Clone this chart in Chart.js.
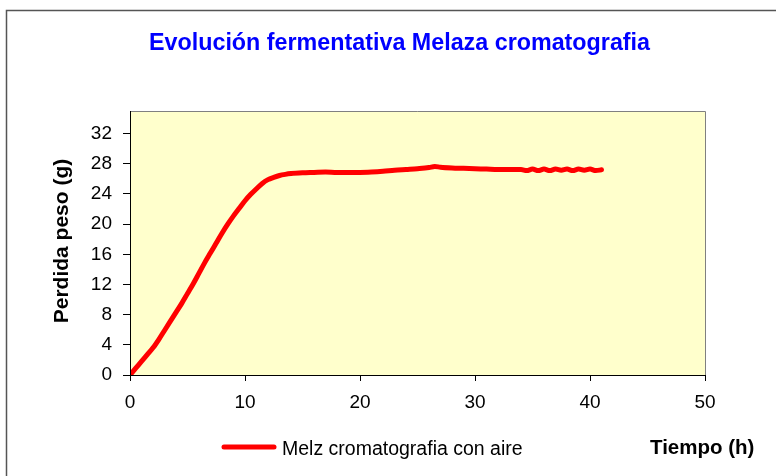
<!DOCTYPE html>
<html>
<head>
<meta charset="utf-8">
<script src="https://cdn.jsdelivr.net/npm/chart.js@4.4.1/dist/chart.umd.min.js"></script>
<style>
html,body{margin:0;padding:0;background:#fff;}
#wrap{width:776px;height:476px;position:relative;}
</style>
</head>
<body>
<div id="wrap"><canvas id="c" width="776" height="476"></canvas></div>
<script>
// Data
const chartTitle = "Evolución fermentativa Melaza cromatografia";
const seriesName = "Melz cromatografia con aire";
const xTitle = "Tiempo (h)";
const yTitle = "Perdida peso (g)";
const timeHours = [0,0.5,1,1.5,2,2.5,3,3.5,4,4.5,5,5.5,6,6.5,7,7.5,8,8.5,9,9.5,10,10.5,11,11.5,12,12.5,13,13.5,14,15,16,17,18,19,20,21,22,23,24,25,26,26.5,27,28,29,30,31,32,33,34,34.5,35,35.5,36,36.5,37,37.5,38,38.5,39,39.5,40,40.5,41];
const weightLoss = [0,0.9,1.8,2.7,3.6,4.7,5.9,7.1,8.3,9.5,10.8,12.1,13.5,14.9,16.2,17.5,18.8,20.0,21.1,22.1,23.1,23.95,24.7,25.4,25.9,26.2,26.45,26.6,26.7,26.8,26.85,26.9,26.85,26.85,26.85,26.9,27.0,27.15,27.25,27.35,27.5,27.65,27.55,27.45,27.4,27.35,27.3,27.25,27.25,27.25,27.1,27.3,27.1,27.3,27.1,27.3,27.15,27.3,27.1,27.3,27.15,27.3,27.1,27.2];
const xTicks = [0,10,20,30,40,50];
const yTicks = [0,4,8,12,16,20,24,28,32];

const points = timeHours.map((t,i)=>({x:t,y:weightLoss[i]}));
const FONT = "'Liberation Sans', Arial, sans-serif";

const decor = {
  id:'decor',
  beforeDraw(chart){
    const ctx = chart.ctx, a = chart.chartArea;
    ctx.save();
    ctx.fillStyle = '#fff';
    ctx.fillRect(0,0,chart.width,chart.height);
    ctx.fillStyle = '#FFFFCC';
    ctx.fillRect(a.left,a.top,a.right-a.left,a.bottom-a.top);
    ctx.restore();
  },
  afterDraw(chart){
    const ctx = chart.ctx, a = chart.chartArea;
    ctx.save();
    // plot border
    ctx.strokeStyle = '#808080';
    ctx.lineWidth = 1;
    ctx.beginPath();
    ctx.moveTo(a.left, a.top+0.5); ctx.lineTo(a.right+0.5, a.top+0.5); ctx.lineTo(a.right+0.5, a.bottom);
    ctx.stroke();
    ctx.strokeStyle = '#000';
    ctx.beginPath();
    ctx.moveTo(a.left+0.5, a.top); ctx.lineTo(a.left+0.5, a.bottom+0.5); ctx.lineTo(a.right, a.bottom+0.5);
    ctx.stroke();
    // outer frame
    ctx.strokeStyle = '#555';
    ctx.lineWidth = 1.5;
    ctx.strokeRect(6.5, 10.5, 800, 500);
    // title
    ctx.fillStyle = '#0000FF';
    ctx.font = "bold 23.3px " + FONT;
    ctx.textAlign = 'left';
    ctx.textBaseline = 'alphabetic';
    ctx.fillText(chartTitle, 149, 50);
    // y title
    ctx.fillStyle = '#000';
    ctx.font = "bold 21px " + FONT;
    ctx.save();
    ctx.translate(68, 241);
    ctx.rotate(-Math.PI/2);
    ctx.textAlign = 'center';
    ctx.fillText(yTitle, 0, 0);
    ctx.restore();
    // x title
    ctx.font = "bold 20.5px " + FONT;
    ctx.textAlign = 'left';
    ctx.fillText(xTitle, 650, 454);
    // legend
    const ds = chart.data.datasets[0];
    ctx.strokeStyle = ds.borderColor;
    ctx.lineWidth = 5;
    ctx.lineCap = 'round';
    ctx.beginPath(); ctx.moveTo(224, 447); ctx.lineTo(274, 447); ctx.stroke();
    ctx.font = "19.5px " + FONT;
    ctx.fillStyle = '#000';
    ctx.fillText(ds.label, 282, 455);
    ctx.restore();
  }
};

new Chart(document.getElementById('c'), {
  type:'line',
  data:{datasets:[{
    label: seriesName,
    data: points,
    borderColor:'#FF0000',
    borderWidth:5,
    pointRadius:0,
    fill:false,
    tension:0.4,
    cubicInterpolationMode:'monotone',
    borderCapStyle:'round',
    borderJoinStyle:'round'
  }]},
  options:{
    responsive:false,
    animation:false,
    layout:{padding:{left:0,top:111,right:71,bottom:0}},
    plugins:{legend:{display:false},title:{display:false},tooltip:{enabled:false}},
    scales:{
      x:{
        type:'linear', min:0, max:50,
        afterFit(s){ s.height = 101; },
        afterBuildTicks(s){ s.ticks = xTicks.map(v=>({value:v})); },
        ticks:{stepSize:10, color:'#000', font:{family:FONT,size:19}, padding:10, maxRotation:0},
        grid:{drawOnChartArea:false, drawTicks:true, tickLength:6, color:'#000'},
        border:{display:true,color:'#000'}
      },
      y:{
        min:0, max:35,
        afterFit(s){ s.width = 130; },
        afterBuildTicks(s){ s.ticks = yTicks.map(v=>({value:v})); },
        ticks:{stepSize:4, color:'#000', font:{family:FONT,size:19}, padding:11},
        grid:{drawOnChartArea:false, drawTicks:true, tickLength:7, color:'#000'},
        border:{display:true,color:'#000'}
      }
    }
  },
  plugins:[decor]
});
</script>
</body>
</html>
